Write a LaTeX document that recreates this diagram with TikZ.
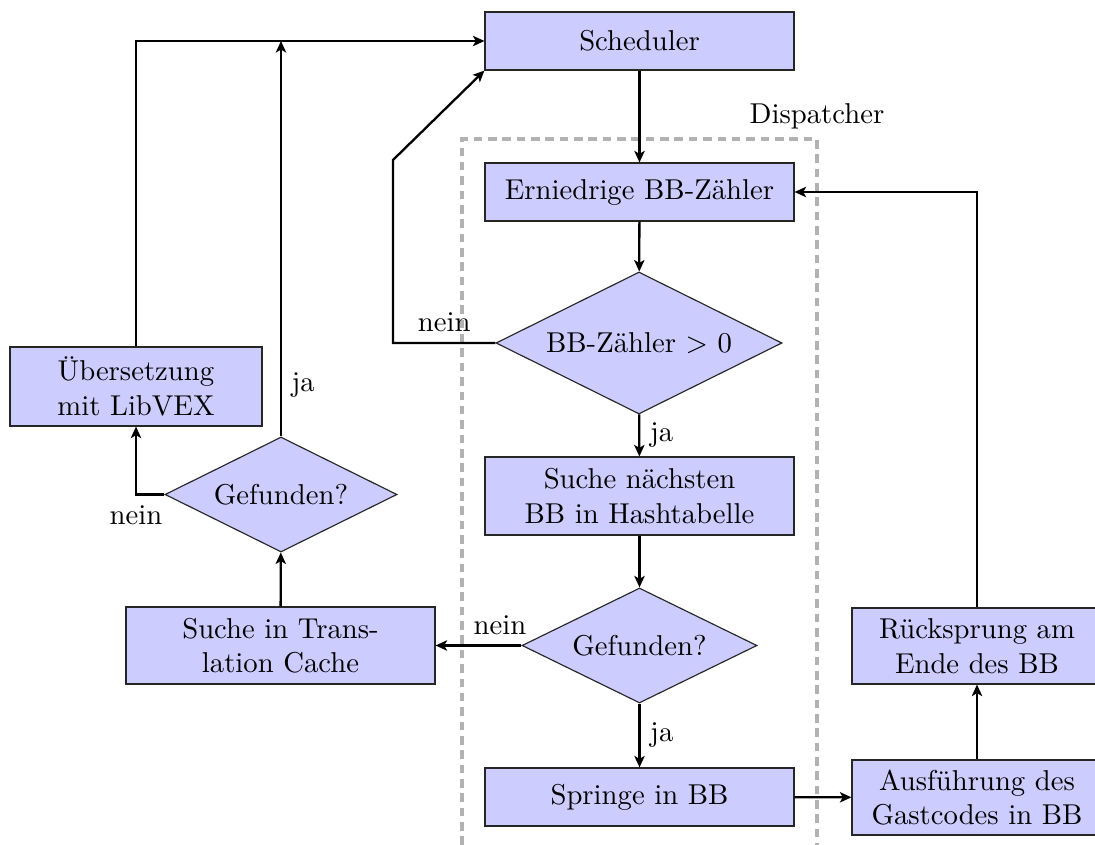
\documentclass[tikz,border=0pt]{standalone}
\usetikzlibrary{shapes.geometric,arrows.meta}
\begin{document}
\begin{tikzpicture}[x=0.3484pt,y=-0.3484pt,
  box/.style 2 args={draw=black!85, fill=blue!20, rectangle, align=center, inner sep=0pt,
    minimum width=#1*0.3484pt, minimum height=#2*0.3484pt},
  dia/.style 2 args={draw=black!85, fill=blue!20, diamond, align=center, inner sep=0pt, aspect=2,
    minimum width=#1*0.3484pt, minimum height=#2*0.3484pt},
  conn/.style={thick, -{Stealth[length=4pt,width=3.6pt,inset=1pt]}},
  lab/.style={font=\normalsize},
  dispatch/.style={draw=black!30, line width=1.1pt, dash pattern=on 3pt off 2pt}]
\useasboundingbox (0,0) rectangle (1095,845);
% dispatcher frame
\draw[dispatch] (462,845) -- (462,139) -- (817,139) -- (817,845);
\node[anchor=south] (disp) at (817,139) {Dispatcher};
% nodes
\node[box={309}{58}] (sched) at (639.5,41) {Scheduler};
\node[box={309}{58}] (dec) at (639.5,192) {Erniedrige BB-Z\"ahler};
\node[dia={286}{142}] (cnt) at (639,343) {BB-Z\"ahler $>$ 0};
\node[box={309}{78}] (hash) at (639.5,496) {Suche n\"achsten\\BB in Hashtabelle};
\node[dia={235}{115}] (gef) at (639.5,645.5) {Gefunden?};
\node[box={309}{58}] (jump) at (639.5,797) {Springe in BB};
\node[box={250}{75}] (exec) at (977,797.5) {Ausf\"uhrung des\\Gastcodes in BB};
\node[box={250}{76}] (ret) at (977,646) {R\"ucksprung am\\Ende des BB};
\node[box={309}{77}] (tc) at (280.5,645.5) {Suche in Trans-\\lation Cache};
\node[dia={232}{115}] (gef2) at (281,494.5) {Gefunden?};
\node[box={252}{79}] (lib) at (136,386.5) {\"Ubersetzung\\mit LibVEX};
% helper coordinates
\coordinate (c1) at (393,343);
\coordinate (c2) at (393,160);
\coordinate (c3) at (lib.north |- sched.west);
\coordinate (c4) at (gef2.north |- sched.west);
\coordinate (c5) at (lib.south |- gef2.west);
\coordinate (c6) at (ret.north |- dec.east);
% connectors
\draw[conn] (sched) -- (dec);
\draw[conn] (dec) -- (cnt);
\draw[conn] (cnt) -- node[right, lab] {ja} (hash);
\draw[conn] (cnt.west) -- node[above, lab] {nein} (c1) -- (c2) -- (sched.south west);
\draw[conn] (hash) -- (gef);
\draw[conn] (gef.west) -- node[above, pos=0.25, lab] {nein} (tc.east);
\draw[conn] (gef) -- node[right, lab] {ja} (jump);
\draw[conn] (jump) -- (exec);
\draw[conn] (exec) -- (ret);
\draw[conn] (ret.north) -- (c6) -- (dec.east);
\draw[conn] (tc) -- (gef2);
\draw[conn] (gef2.north) -- node[right, pos=0.13, lab] {ja} (c4);
\draw[conn] (gef2.west) -- (c5) node[below, lab] {nein} -- (lib.south);
\draw[conn] (lib.north) -- (c3) -- (sched.west);
\end{tikzpicture}
\end{document}
